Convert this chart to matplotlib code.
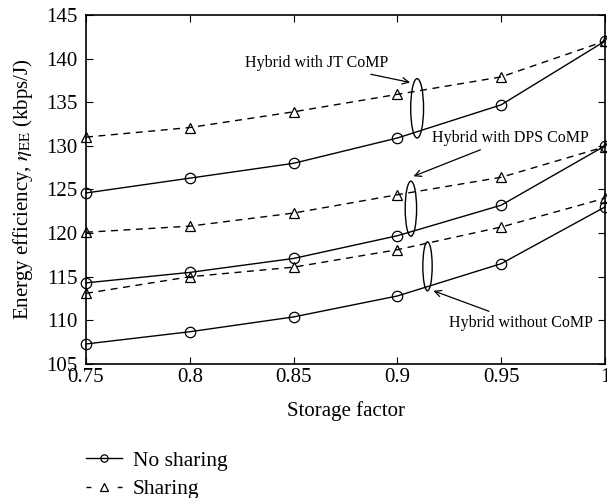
import matplotlib
matplotlib.use("Agg")
import matplotlib.pyplot as plt
from matplotlib.patches import Ellipse
from matplotlib.lines import Line2D

plt.rcParams['font.family'] = ['Liberation Serif', 'DejaVu Serif']
plt.rcParams['mathtext.fontset'] = 'stix'

# data
storage = [0.75, 0.8, 0.85, 0.9, 0.95, 1.0]
jt_share = [131.0, 132.1, 133.9, 135.9, 137.9, 142.0]
jt_noshare = [124.6, 126.3, 128.0, 130.9, 134.7, 142.0]
dps_share = [120.1, 120.8, 122.3, 124.4, 126.4, 129.9]
dps_noshare = [114.3, 115.5, 117.1, 119.7, 123.2, 130.0]
nocomp_share = [113.1, 115.0, 116.1, 118.1, 120.7, 124.0]
nocomp_noshare = [107.3, 108.7, 110.4, 112.8, 116.5, 123.0]

fig = plt.figure(figsize=(6.07, 4.98), dpi=100)
ax = fig.add_axes([0.1417, 0.269, 0.855, 0.701])

mk = dict(markersize=7.5, markerfacecolor='none', markeredgecolor='black',
          color='black', linewidth=1.0, markeredgewidth=0.9)
for s in [jt_share, dps_share, nocomp_share]:
    ax.plot(storage, s, linestyle=(0, (5, 4)), marker='^', clip_on=False, **mk)
for s in [jt_noshare, dps_noshare, nocomp_noshare]:
    ax.plot(storage, s, linestyle='-', marker='o', clip_on=False, **mk)

ax.set_xlim(0.75, 1.0)
ax.set_ylim(105, 145)
ax.set_xticks(storage)
ax.set_xticklabels(['0.75', '0.8', '0.85', '0.9', '0.95', '1'])
ax.set_yticks(range(105, 146, 5))
ax.tick_params(direction='in', top=True, right=True, labelsize=15, length=5)
ax.tick_params(axis='y', pad=6)
ax.tick_params(axis='x', pad=3)
for sp in ax.spines.values():
    sp.set_linewidth(1.2)

ax.set_xlabel('Storage factor', fontsize=15, labelpad=10)
ax.set_ylabel(r'Energy efficiency, $\eta_{\mathrm{EE}}$ (kbps/J)', fontsize=15, labelpad=8)

# ellipses grouping the curves
ells = [(0.9095, 134.3, 0.0062, 6.8), (0.9065, 122.8, 0.0055, 6.3), (0.9145, 116.2, 0.0045, 5.6)]
for x, y, w, h in ells:
    ax.add_patch(Ellipse((x, y), w, h, fill=False, edgecolor='black', linewidth=1.0))

arrow = dict(arrowstyle='->', color='black', lw=0.9)
ax.annotate('Hybrid with JT CoMP', xy=(0.9074, 137.2), xytext=(0.8955, 139.5),
            fontsize=11.5, ha='right', va='center', arrowprops=arrow)
ax.annotate('Hybrid with DPS CoMP', xy=(0.9065, 126.4), xytext=(0.9166, 130.9),
            fontsize=11.5, ha='left', va='center', arrowprops=arrow)
ax.annotate('Hybrid without CoMP', xy=(0.9161, 113.5), xytext=(0.9248, 109.7),
            fontsize=11.5, ha='left', va='center', arrowprops=arrow)

handles = [Line2D([], [], linestyle='-', marker='o', **mk),
           Line2D([], [], linestyle=(0, (3.5, 19)), marker='^', **mk)]
fig.legend(handles, ['No sharing', 'Sharing'], loc='upper left',
           bbox_to_anchor=(0.1417, 0.095), frameon=False, fontsize=15.5,
           handlelength=1.67, handletextpad=0.5, labelspacing=0.4, borderpad=0,
           borderaxespad=0, markerscale=0.7)

fig.savefig('out.png', dpi=100)
